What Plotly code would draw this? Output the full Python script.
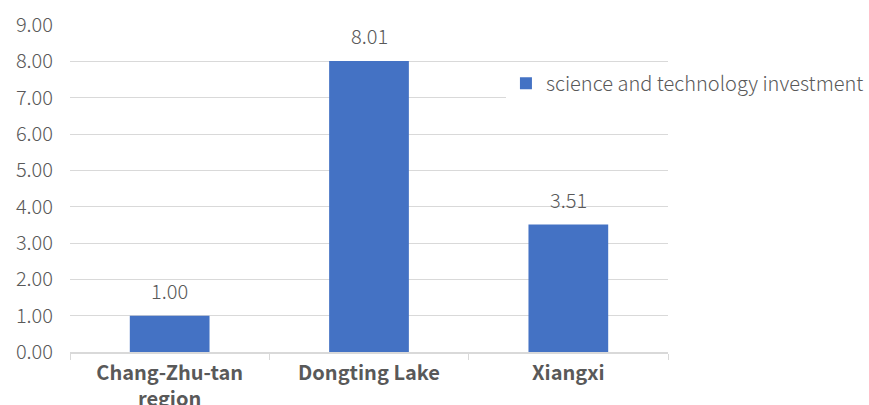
import plotly.graph_objects as go

regions = ["Chang-Zhu-tan<br>region", "Dongting Lake", "Xiangxi"]
investment = [1.00, 8.01, 3.51]
series_name = "science and technology investment"

FONT = "Noto Sans CJK SC"
GRAY = "#595959"
LINE = "#d9d9d9"
SIZE = 20

fig = go.Figure(
    go.Bar(
        x=regions,
        y=investment,
        name=series_name,
        marker=dict(color="#4472C4", line=dict(width=0)),
        showlegend=True,
    )
)

# value labels floating above each bar
for r, v in zip(regions, investment):
    fig.add_annotation(
        x=r, y=v, text=f"{v:.2f}", showarrow=False,
        yanchor="middle", yshift=25,
        font=dict(family=FONT, size=SIZE, color=GRAY, weight=300),
    )

fig.update_layout(
    width=869,
    height=405,
    margin=dict(l=70, r=201, t=25, b=53, autoexpand=False),
    paper_bgcolor="white",
    plot_bgcolor="white",
    bargap=0.6,
    font=dict(family=FONT, color=GRAY),
    showlegend=True,
    legend=dict(
        x=0.729,
        y=0.822,
        xanchor="left",
        yanchor="middle",
        bgcolor="white",
        font=dict(family=FONT, size=SIZE, color=GRAY, weight=300),
        itemwidth=30,
        tracegroupgap=0,
    ),
    xaxis=dict(
        type="category",
        automargin=False,
        tickson="boundaries",
        ticks="outside",
        ticklen=6,
        tickcolor=LINE,
        showline=True,
        linecolor=LINE,
        linewidth=1.5,
        showgrid=False,
        ticklabelstandoff=2,
        tickfont=dict(family=FONT, size=SIZE, color=GRAY, weight="bold"),
    ),
    yaxis=dict(
        range=[0, 9],
        dtick=1,
        tickformat=".2f",
        automargin=False,
        showgrid=True,
        gridcolor=LINE,
        gridwidth=1,
        zeroline=False,
        showline=False,
        ticks="",
        tickfont=dict(family=FONT, size=SIZE, color=GRAY, weight=300),
        ticklabelstandoff=16,
    ),
)

fig.write_html("out.html")
